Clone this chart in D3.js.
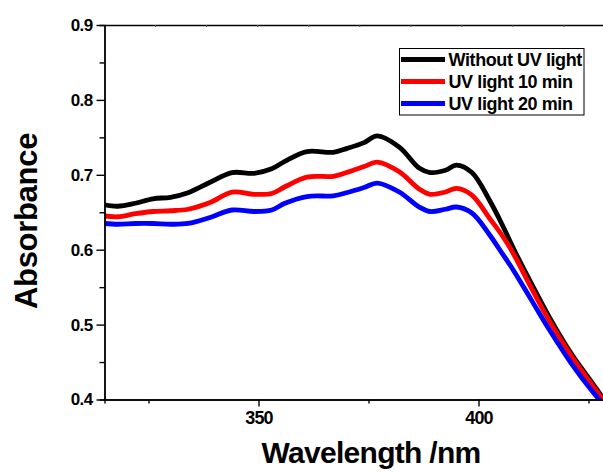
<!DOCTYPE html>
<html>
<head>
<meta charset="utf-8">
<script src="https://cdn.jsdelivr.net/npm/d3@7"></script>
<style>
  body { margin: 0; background: #fff; }
  svg { display: block; font-family: Arial, "Liberation Sans", sans-serif; font-weight: bold; }
</style>
</head>
<body>
<script>
// wavelength grid (nm) shared by all three spectra
const wavelength = [315, 318, 322, 326, 330, 334, 339, 344, 349, 353, 356, 361, 367, 370, 374, 377,
                    382, 386.5, 389, 392.5, 395, 398.5, 402.5, 405.5, 408, 412, 416, 421, 426, 428.5];
const noUV  = [0.660, 0.658, 0.662, 0.668, 0.670, 0.676, 0.690, 0.703, 0.702, 0.708, 0.718, 0.731, 0.730, 0.735, 0.743, 0.752,
               0.737, 0.709, 0.703, 0.706, 0.713, 0.703, 0.666, 0.632, 0.601, 0.555, 0.511, 0.462, 0.421, 0.400];
const uv10  = [0.645, 0.644, 0.648, 0.651, 0.652, 0.654, 0.663, 0.677, 0.674, 0.675, 0.684, 0.697, 0.698, 0.703, 0.711, 0.717,
               0.704, 0.681, 0.674, 0.677, 0.682, 0.673, 0.642, 0.618, 0.594, 0.549, 0.506, 0.459, 0.418, 0.398];
const uv20  = [0.635, 0.634, 0.635, 0.635, 0.634, 0.635, 0.643, 0.653, 0.651, 0.653, 0.662, 0.671, 0.672, 0.676, 0.683, 0.689,
               0.677, 0.657, 0.651, 0.654, 0.657, 0.649, 0.620, 0.594, 0.572, 0.533, 0.494, 0.449, 0.410, 0.393];

const seriesNames = ["Without UV light", "UV light 10 min", "UV light 20 min"];
const seriesColors = ["#000000", "#ff0000", "#0000ff"];
const seriesValues = [noUV, uv10, uv20];

const yMajor = [0.4, 0.5, 0.6, 0.7, 0.8, 0.9];
const yMinor = [0.45, 0.55, 0.65, 0.75, 0.85];
const xMajor = [350, 400];
const xMinor = [325, 375, 425];

const W = 603, H = 472;
const plotLeft = 104.5, plotTop = 25, plotBottom = 399.5;

const x = d3.scaleLinear().domain([315, 430]).range([plotLeft, plotLeft + 115 * 4.4]);
const y = d3.scaleLinear().domain([0.4, 0.9]).range([plotBottom, plotTop]);

const svg = d3.select("body").append("svg").attr("width", W).attr("height", H);

svg.append("defs").append("clipPath").attr("id", "plot")
  .append("rect").attr("x", plotLeft).attr("y", plotTop).attr("width", W - plotLeft).attr("height", plotBottom - plotTop);

// curves
const line = d3.line().x((d, i) => x(wavelength[i])).y(d => y(d)).curve(d3.curveCatmullRom);
svg.append("g").attr("clip-path", "url(#plot)")
  .selectAll("path")
  .data(seriesValues)
  .join("path")
    .attr("d", line)
    .attr("fill", "none")
    .attr("stroke", (d, i) => seriesColors[i])
    .attr("stroke-width", 4.8)
    .attr("stroke-linejoin", "round");

// axes
function styleAxis(g) {
  g.select(".domain").attr("stroke", "#000").attr("stroke-width", 1.4);
  g.selectAll(".tick line").attr("stroke", "#000").attr("stroke-width", 1.4);
}

svg.append("g").attr("transform", `translate(${plotLeft},0)`)
  .call(d3.axisLeft(y).tickValues(yMinor).tickSize(5).tickFormat(""))
  .call(styleAxis);
svg.append("g").attr("transform", `translate(${plotLeft},0)`)
  .call(d3.axisLeft(y).tickValues(yMajor).tickSize(8).tickSizeOuter(0).tickPadding(4).tickFormat(d3.format(".1f")))
  .call(styleAxis)
  .call(g => g.selectAll("text").attr("font-size", 17).attr("letter-spacing", -0.6)
    .attr("fill", "#000").attr("font-family", "Arial, 'Liberation Sans', sans-serif"));

svg.append("g").attr("transform", `translate(0,${plotBottom})`)
  .call(d3.axisBottom(x).tickValues(xMinor).tickSize(4).tickFormat(""))
  .call(styleAxis);
svg.append("g").attr("transform", `translate(0,${plotBottom})`)
  .call(d3.axisBottom(x).tickValues(xMajor).tickSize(7).tickSizeOuter(0).tickPadding(5))
  .call(styleAxis)
  .call(g => g.selectAll("text").attr("font-size", 18).attr("letter-spacing", -0.8)
    .attr("fill", "#000").attr("font-family", "Arial, 'Liberation Sans', sans-serif"));

// top frame line with faint inner ticks
const topTicks = d3.range(9).map(i => 326.5 + i * 11.6);
svg.append("g").attr("transform", `translate(0,${plotTop})`)
  .call(d3.axisTop(x).tickValues(topTicks).tickSize(-2).tickSizeOuter(0).tickFormat(""))
  .call(styleAxis)
  .call(g => g.selectAll(".tick line").attr("stroke-width", 1).attr("stroke", "#555"));

// axis titles
svg.append("text")
  .attr("x", 371).attr("y", 463)
  .attr("text-anchor", "middle")
  .attr("font-size", 30).attr("letter-spacing", -0.7)
  .text("Wavelength /nm");

svg.append("text")
  .attr("transform", "translate(37,221) rotate(-90)")
  .attr("text-anchor", "middle")
  .attr("font-size", 31).attr("letter-spacing", -0.3)
  .text("Absorbance");

// legend
const legend = svg.append("g").attr("transform", "translate(399.5,48.5)");
legend.append("rect")
  .attr("width", 184.5).attr("height", 66.5)
  .attr("fill", "#fff").attr("stroke", "#000").attr("stroke-width", 1);
const rows = legend.selectAll("g.row")
  .data(seriesNames)
  .join("g")
    .attr("class", "row")
    .attr("transform", (d, i) => `translate(0,${11 + i * 22})`);
rows.append("line")
  .attr("x1", 1.5).attr("x2", 45.5)
  .attr("stroke", (d, i) => seriesColors[i])
  .attr("stroke-width", 5);
rows.append("text")
  .attr("x", 49).attr("y", 6.5)
  .attr("font-size", 18).attr("letter-spacing", -0.4)
  .text(d => d);
</script>
</body>
</html>
